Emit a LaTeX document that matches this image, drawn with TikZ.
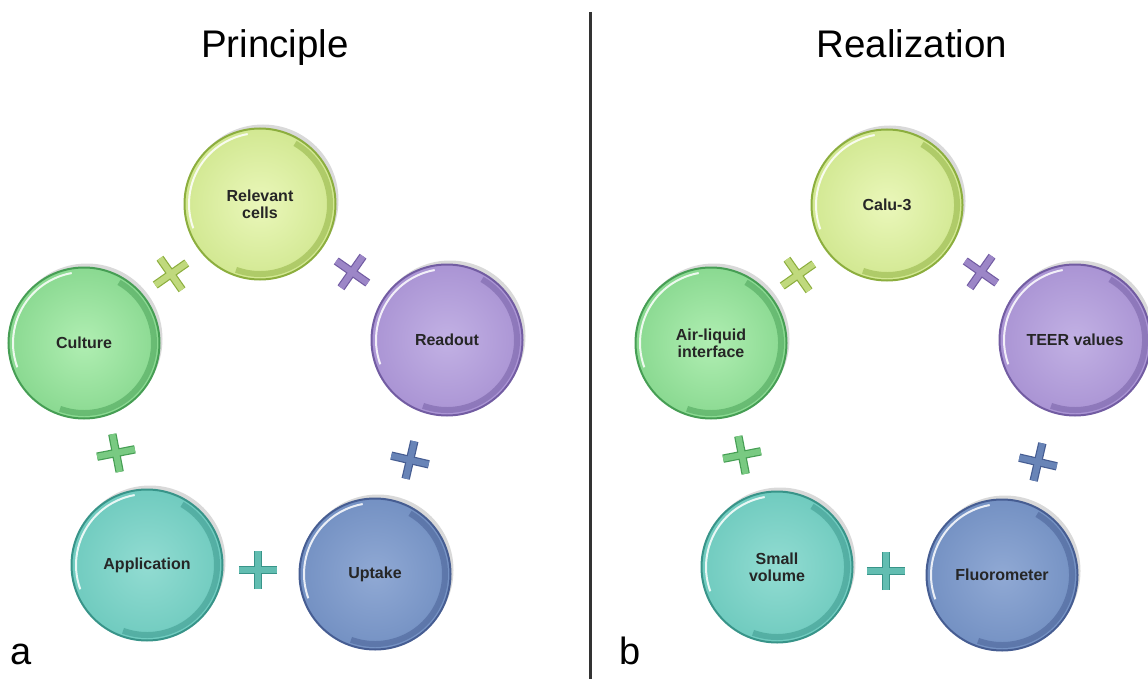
\documentclass[tikz,border=0pt]{standalone}
\usepackage{fontspec}
\setmainfont{Liberation Sans}
\usetikzlibrary{shapes.misc,shadows}

\definecolor{limeIn}{RGB}{234,247,186}
\definecolor{limeOut}{RGB}{210,232,146}
\definecolor{limeRim}{RGB}{140,174,62}
\definecolor{mintIn}{RGB}{176,238,178}
\definecolor{mintOut}{RGB}{138,217,145}
\definecolor{mintRim}{RGB}{70,158,84}
\definecolor{lilacIn}{RGB}{194,177,228}
\definecolor{lilacOut}{RGB}{170,148,212}
\definecolor{lilacRim}{RGB}{114,92,162}
\definecolor{aquaIn}{RGB}{146,220,210}
\definecolor{aquaOut}{RGB}{112,203,191}
\definecolor{aquaRim}{RGB}{56,148,137}
\definecolor{steelIn}{RGB}{144,169,212}
\definecolor{steelOut}{RGB}{116,145,195}
\definecolor{steelRim}{RGB}{70,93,146}

\begin{document}
\begin{tikzpicture}[x=1pt,y=1pt,yscale=-1,xscale=1,
    bubble/.style={circle, minimum size=151pt, inner sep=0pt, align=center,
        font=\bfseries\fontsize{16}{17}\selectfont, text=black!85,
        line width=2pt, draw=#1Rim, inner color=#1In, outer color=#1Out,
        drop shadow={shadow xshift=3pt, shadow yshift=4pt, opacity=0.3}},
    plusmark/.style={cross out, draw=#1Rim, line width=1.2pt, double=#1Out!75!#1Rim,
        double distance=6pt, minimum size=26pt, inner sep=0pt},
    rimdark/.style={draw=#1Rim, line width=6pt, opacity=0.5},
    rimlight/.style={draw=white, line width=2pt, opacity=0.85},
    title/.style={font=\fontsize{38.5}{40}\selectfont, anchor=base, inner sep=0pt},
    panel/.style={font=\fontsize{38}{40}\selectfont, anchor=base west, inner sep=0pt}]
    \useasboundingbox (0,0) rectangle (1148,679);

    %Divider
    \coordinate (divtop) at (590,12);
    \coordinate (divbot) at (590,679);
    \draw [line width=3pt, color=black!80] (divtop) -- (divbot);

    %Panel a
    \node [title] (tprin) at (275,58) {Principle};
    \node [bubble=lime] (rel) at (260,204) {Relevant\\cells};
    \node [bubble=mint] (cul) at (84,343) {Culture};
    \node [bubble=lilac] (read) at (447,340) {Readout};
    \node [bubble=aqua] (app) at (147,565) {Application};
    \node [bubble=steel] (upt) at (375,574) {Uptake};
    \node [plusmark=lime, rotate=-10] (xa1) at (171,274) {};
    \node [plusmark=lilac, rotate=10] (xa2) at (352,272) {};
    \node [plusmark=mint, rotate=56] (xa3) at (116,453) {};
    \node [plusmark=steel, rotate=32] (xa4) at (410,460) {};
    \node [plusmark=aqua, rotate=45] (xa5) at (258,570) {};
    \node [panel] (la) at (10,664) {a};

    %Panel b
    \node [title] (treal) at (912,58) {Realization};
    \node [bubble=lime] (calu) at (887,205) {Calu-3};
    \node [bubble=mint] (ali) at (711,343) {Air-liquid\\interface};
    \node [bubble=lilac] (teer) at (1075,340) {TEER values};
    \node [bubble=aqua] (smv) at (777,567) {Small\\volume};
    \node [bubble=steel] (flu) at (1002,575) {Fluorometer};
    \node [plusmark=lime, rotate=-10] (xb1) at (798,275) {};
    \node [plusmark=lilac, rotate=10] (xb2) at (981,272) {};
    \node [plusmark=mint, rotate=56] (xb3) at (742,455) {};
    \node [plusmark=steel, rotate=32] (xb4) at (1038,462) {};
    \node [plusmark=aqua, rotate=45] (xb5) at (886,571) {};
    \node [panel] (lb) at (619,664) {b};

    %Rim shading of the bubbles
    \foreach \n/\c in {rel/lime, cul/mint, read/lilac, app/aqua, upt/steel,
                       calu/lime, ali/mint, teer/lilac, smv/aqua, flu/steel} {
        \draw [rimdark=\c] (\n.center) ++(-60:70) arc [start angle=-60, end angle=110, radius=70];
        \draw [rimlight] (\n.center) ++(160:71) arc [start angle=160, end angle=260, radius=71];
    }
\end{tikzpicture}
\end{document}
